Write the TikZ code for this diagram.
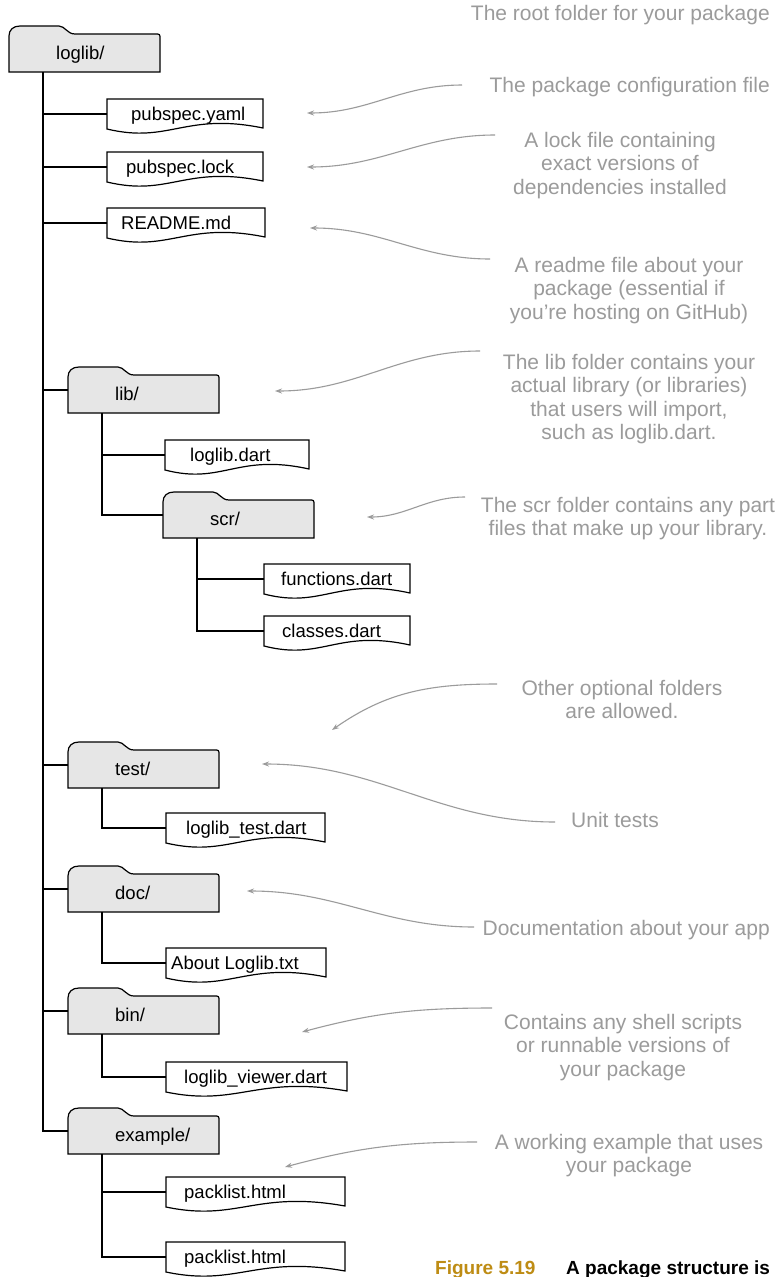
\documentclass[tikz,border=0pt]{standalone}
\usepackage{fontspec}
\setmainfont{Liberation Sans}
\usetikzlibrary{arrows.meta}

\definecolor{notegray}{RGB}{155,155,155}
\definecolor{foldergray}{RGB}{230,230,230}
\definecolor{figgold}{RGB}{190,140,20}

\tikzset{
  treeline/.style={line width=1.2pt,black},
  shapeline/.style={line width=1.2pt,black},
  foldertext/.style={anchor=base west,inner sep=0pt,font=\fontsize{18.5}{20}\selectfont},
  filetext/.style={anchor=base west,inner sep=0pt,font=\fontsize{18.5}{20}\selectfont},
  note/.style={anchor=north,align=center,inner sep=0pt,text=notegray,font=\fontsize{21}{23.5}\selectfont},
  notearrow/.style={draw=notegray,line width=1.1pt,-{Stealth[length=7pt,width=5pt]}},
  captext/.style={anchor=base west,inner sep=0pt,font=\bfseries\fontsize{19}{21}\selectfont},
}

% folder: name, left x, tab top y, label
\newcommand{\drawfolder}[4]{%
  \draw[shapeline,fill=foldergray] (#2,#3+46) -- (#2,#3+10)
    .. controls (#2,#3+4) and (#2+4,#3) .. (#2+11,#3) -- (#2+50,#3)
    .. controls (#2+56,#3) and (#2+58,#3+8) .. (#2+66,#3+8) -- (#2+146,#3+8)
    .. controls (#2+151,#3+8) .. (#2+151,#3+13) -- (#2+151,#3+46) -- cycle;
  \node[foldertext] (#1) at (#2+47,#3+33) {#4};
  \coordinate (#1-in) at (#2,#3+23);
  \coordinate (#1-out) at (#2+34,#3+46);
}

% file: name, left x, middle y, width, text offset, label
\newcommand{\drawfile}[6]{%
  \draw[shapeline,fill=white] (#2,#3-15) -- (#2+#4,#3-15) -- (#2+#4,#3+14)
    .. controls (#2+0.5*#4,#3-2) and (#2+0.4*#4,#3+30) .. (#2,#3+15) -- cycle;
  \node[filetext] (#1) at (#2+#5,#3+6) {#6};
  \coordinate (#1-in) at (#2,#3);
}

\begin{document}
\begin{tikzpicture}[x=1pt,y=-1pt]
  \useasboundingbox[fill=white] (0,0) rectangle (776,1277);

  % the tree
  \drawfolder{root}{9}{26}{loglib/}
  \drawfile{yaml}{107}{114}{156}{24}{pubspec.yaml}
  \drawfile{lock}{107}{167}{156}{19}{pubspec.lock}
  \drawfile{readme}{107}{223}{158}{14}{README.md}
  \drawfolder{lib}{68}{367}{lib/}
  \drawfile{libdart}{165}{455}{144}{25}{loglib.dart}
  \drawfolder{scr}{163}{492}{scr/}
  \drawfile{functions}{264}{579}{146}{17}{functions.dart}
  \drawfile{classes}{264}{631}{146}{18}{classes.dart}
  \drawfolder{test}{68}{742}{test/}
  \drawfile{testdart}{166}{828}{159}{20}{loglib\_test.dart}
  \drawfolder{doc}{68}{866}{doc/}
  \drawfile{about}{166}{963}{160}{5}{About Loglib.txt}
  \drawfolder{bin}{68}{988}{bin/}
  \drawfile{viewer}{166}{1077}{181}{18}{loglib\_viewer.dart}
  \drawfolder{example}{68}{1108}{example/}
  \drawfile{packone}{166}{1192}{179}{18}{packlist.html}
  \drawfile{packtwo}{166}{1257}{179}{18}{packlist.html}

  \draw[treeline] (root-out) |- (example-in);
  \foreach \c in {yaml,lock,readme,lib,test,doc,bin}
    \draw[treeline] (root-out |- \c-in) -- (\c-in);
  \draw[treeline] (lib-out) |- (scr-in);
  \draw[treeline] (lib-out |- libdart-in) -- (libdart-in);
  \draw[treeline] (scr-out) |- (classes-in);
  \draw[treeline] (scr-out |- functions-in) -- (functions-in);
  \draw[treeline] (test-out) |- (testdart-in);
  \draw[treeline] (doc-out) |- (about-in);
  \draw[treeline] (bin-out) |- (viewer-in);
  \draw[treeline] (example-out) |- (packtwo-in);
  \draw[treeline] (example-out |- packone-in) -- (packone-in);

  % the notes
  \node[note,anchor=base east] (rootnote) at (770,20) {The root folder for your package};
  \node[note,anchor=base east] (yamlnote) at (770,92) {The package configuration file};
  \node[note] (locknote) at (620,132) {A lock file containing\\exact versions of\\dependencies installed};
  \node[note] (readmenote) at (629,257) {A readme file about your\\package (essential if\\you’re hosting on GitHub)};
  \node[note] (libnote) at (629,354) {The lib folder contains your\\actual library (or libraries)\\that users will import,\\such as loglib.dart.};
  \node[note] (scrnote) at (628,497) {The scr folder contains any part\\files that make up your library.};
  \node[note] (othernote) at (622,680) {Other optional folders\\are allowed.};
  \node[note,anchor=base] (testnote) at (615,827) {Unit tests};
  \node[note,anchor=base east] (docnote) at (770,935) {Documentation about your app};
  \node[note] (binnote) at (623,1014) {Contains any shell scripts\\or runnable versions of\\your package};
  \node[note] (examplenote) at (629,1134) {A working example that uses\\your package};

  \coordinate (yaml-tail) at (462,85);     \coordinate (yaml-head) at (307,113);
  \coordinate (lock-tail) at (495,135);    \coordinate (lock-head) at (307,167);
  \coordinate (readme-tail) at (490,259);  \coordinate (readme-head) at (310,228);
  \coordinate (lib-tail) at (480,351);     \coordinate (lib-head) at (275,391);
  \coordinate (scr-tail) at (465,497);     \coordinate (scr-head) at (367,517);
  \coordinate (other-tail) at (497,684);   \coordinate (other-head) at (332,730);
  \coordinate (test-tail) at (555,822);    \coordinate (test-head) at (262,764);
  \coordinate (doc-tail) at (474,927);     \coordinate (doc-head) at (247,891);
  \coordinate (bin-tail) at (492,1008);    \coordinate (bin-head) at (302,1032);
  \coordinate (example-tail) at (477,1142);\coordinate (example-head) at (285,1167);

  \foreach \a in {yaml,lock,readme,lib,scr,test,doc}
    \draw[notearrow] (\a-tail) to[out=180,in=0] (\a-head);
  \draw[notearrow] (other-tail) to[out=180,in=35] (other-head);
  \draw[notearrow] (bin-tail) to[out=180,in=15] (bin-head);
  \draw[notearrow] (example-tail) to[out=180,in=15] (example-head);

  % caption
  \node[captext,text=figgold] (figno) at (435,1274) {Figure 5.19};
  \node[captext] (figcap) at (566,1274) {A package structure is};
\end{tikzpicture}
\end{document}
